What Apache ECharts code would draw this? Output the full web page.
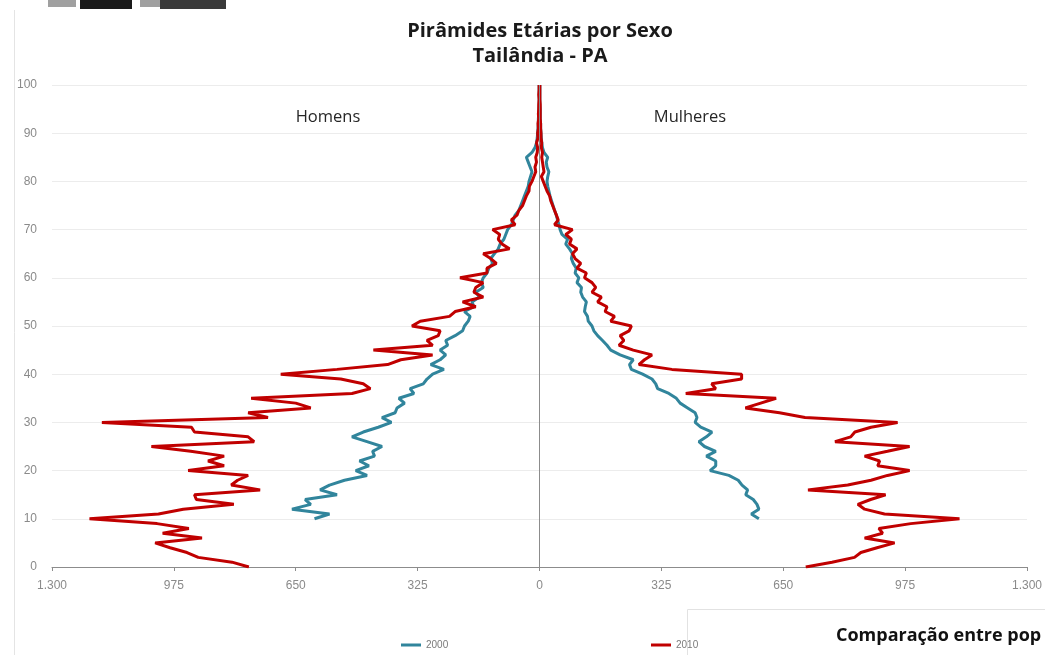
<!DOCTYPE html>
<html>
<head>
<meta charset="utf-8">
<script src="https://cdn.jsdelivr.net/npm/echarts@6/dist/echarts.min.js"></script>
<style>
html,body{margin:0;padding:0;background:#fff;}
#chart{width:1045px;height:655px;}
</style>
</head>
<body>
<div id="chart"></div>
<script>
// Ages (category axis, bottom to top)
const ages = [0,1,2,3,4,5,6,7,8,9,10,11,12,13,14,15,16,17,18,19,20,21,22,23,24,25,26,27,28,29,30,31,32,33,34,35,36,37,38,39,40,41,42,43,44,45,46,47,48,49,50,51,52,53,54,55,56,57,58,59,60,61,62,63,64,65,66,67,68,69,70,71,72,73,74,75,76,77,78,79,80,81,82,83,84,85,86,87,88,89,90,91,92,93,94,95,96,97,98,99,100];

// Men 2000 (magnitudes; drawn to the left)
const men2000 = [null,null,null,null,null,null,null,null,null,null,
  600,560,660,610,625,540,585,560,520,460,
  490,455,480,440,445,420,460,500,470,430,
  395,420,385,380,360,375,335,345,310,300,
  285,255,290,265,250,265,245,250,225,205,
  200,190,185,200,175,180,160,170,150,155,
  150,140,135,125,130,120,110,105,95,90,
  85,75,70,65,55,50,45,40,35,30,
  28,24,20,25,30,35,20,12,8,6,
  5,4,3,3,2,2,1,1,1,1,1];

// Women 2000
const women2000 = [null,null,null,null,null,null,null,null,null,null,
  585,565,585,580,570,550,555,540,530,505,
  455,470,470,445,470,440,425,445,460,430,
  415,420,415,395,375,365,345,315,310,300,
  275,245,240,250,215,190,180,168,155,145,
  140,130,128,120,122,125,115,110,112,100,
  105,95,98,90,85,88,80,70,75,60,
  55,52,48,45,40,36,32,28,25,22,
  20,22,25,20,18,22,12,8,6,5,
  4,3,3,2,2,2,1,1,1,1,1];

// Men 2010
const men2010 = [775,820,910,940,985,1025,900,1005,935,1020,
  1200,1016,950,815,915,920,745,822,805,777,
  937,841,884,841,930,1035,761,777,920,928,
  1167,724,777,610,650,769,500,451,470,530,
  690,540,405,370,285,443,285,300,270,265,
  340,318,240,225,170,205,150,175,170,150,
  212,140,140,115,130,150,80,100,110,106,
  125,65,75,60,55,45,40,35,28,27,
  20,15,10,12,8,10,6,5,8,4,
  5,3,4,2,3,2,2,1,2,1,1];

// Women 2010
const women2010 = [710,780,840,857,900,947,867,915,905,990,
  1120,920,867,849,883,923,716,822,884,928,
  987,902,907,867,928,987,788,830,841,884,
  955,708,640,549,590,631,390,470,459,539,
  539,353,265,280,300,250,212,225,215,239,
  245,190,200,175,180,155,165,140,150,140,
  120,125,100,110,95,88,100,80,85,70,
  88,40,50,45,40,35,30,27,20,15,
  10,5,12,10,8,6,8,5,6,4,
  4,3,3,2,2,2,2,1,1,1,1];

const xTicks = [-1300,-975,-650,-325,0,325,650,975,1300];
const xTickLabels = ['1.300','975','650','325','0','325','650','975','1.300'];

const colors = {'2000':'#31859c','2010':'#c00000'};

const neg = arr => arr.map(v => v === null ? null : -v);

const chart = echarts.init(document.getElementById('chart'), null, {renderer:'canvas'});

function lineSeries(name, data, extra) {
  return Object.assign({
    name: name,
    type: 'line',
    data: data,
    showSymbol: false,
    symbol: 'none',
    connectNulls: false,
    lineStyle: {color: colors[name], width: 3},
    itemStyle: {color: colors[name]},
    emphasis: {disabled: true},
    animation: false
  }, extra || {});
}

const option = {
  backgroundColor: '#ffffff',
  animation: false,
  grid: {left: 52, right: 17, top: 85, bottom: 88, containLabel: false},
  xAxis: {
    type: 'value',
    min: -1300, max: 1300, interval: 325,
    axisLine: {show: true, lineStyle: {color: '#8c8c8c', width: 1}},
    axisTick: {show: true, length: 4, lineStyle: {color: '#8c8c8c'}},
    splitLine: {show: false},
    axisLabel: {
      margin: 13,
      color: '#8a8a8a',
      fontFamily: 'Liberation Sans',
      fontSize: 12,
      formatter: function (v) { const i = xTicks.indexOf(v); return i >= 0 ? xTickLabels[i] : ''; }
    }
  },
  yAxis: {
    type: 'category',
    data: ages,
    boundaryGap: false,
    axisLine: {show: false},
    axisTick: {show: false},
    axisLabel: {
      interval: 9,
      margin: 15,
      color: '#8a8a8a',
      fontFamily: 'Liberation Sans',
      fontSize: 12
    },
    splitLine: {show: true, interval: 9, lineStyle: {color: '#ececec', width: 1}}
  },
  legend: [
    {data: [{name: '2000'}], left: 396, top: 635, icon: 'rect', itemWidth: 20, itemHeight: 3,
     textStyle: {color: '#7a7a7a', fontSize: 10, fontFamily: 'Liberation Sans'}, selectedMode: false},
    {data: [{name: '2010'}], left: 646, top: 635, icon: 'rect', itemWidth: 20, itemHeight: 3,
     textStyle: {color: '#7a7a7a', fontSize: 10, fontFamily: 'Liberation Sans'}, selectedMode: false}
  ],
  series: [
    lineSeries('2000', neg(men2000), {
      markLine: {
        silent: true, symbol: ['none','none'], label: {show: false},
        lineStyle: {color: '#8c8c8c', width: 1, type: 'solid'},
        data: [{xAxis: 0}], animation: false
      }
    }),
    lineSeries('2000', women2000),
    lineSeries('2010', neg(men2010)),
    lineSeries('2010', women2010)
  ],
  graphic: [
    {type: 'line', shape: {x1: 14.5, y1: 10, x2: 14.5, y2: 655}, style: {stroke: '#e4e4e4', lineWidth: 1}, silent: true},
    {type: 'rect', shape: {x: 48, y: 0, width: 28, height: 7}, style: {fill: '#a0a0a0'}, silent: true},
    {type: 'rect', shape: {x: 80, y: 0, width: 52, height: 9}, style: {fill: '#1a1a1a'}, silent: true},
    {type: 'rect', shape: {x: 140, y: 0, width: 20, height: 7}, style: {fill: '#a0a0a0'}, silent: true},
    {type: 'rect', shape: {x: 160, y: 0, width: 66, height: 9}, style: {fill: '#3a3a3a'}, silent: true},
    {type: 'text', x: 540, y: 31, style: {text: 'Pirâmides Etárias por Sexo', textAlign: 'center', textVerticalAlign: 'middle', font: 'bold 20px "Open Sans"', fill: '#1a1a1a'}, silent: true},
    {type: 'text', x: 540, y: 56, style: {text: 'Tailândia - PA', textAlign: 'center', textVerticalAlign: 'middle', font: 'bold 20px "Open Sans"', fill: '#1a1a1a'}, silent: true},
    {type: 'text', x: 328, y: 117, style: {text: 'Homens', textAlign: 'center', textVerticalAlign: 'middle', font: '16.5px "Open Sans"', fill: '#262626'}, silent: true},
    {type: 'text', x: 690, y: 117, style: {text: 'Mulheres', textAlign: 'center', textVerticalAlign: 'middle', font: '16.5px "Open Sans"', fill: '#262626'}, silent: true},
    {type: 'rect', shape: {x: 687.5, y: 609.5, width: 370, height: 60}, style: {fill: '#ffffff', stroke: '#e2e2e2', lineWidth: 1}, silent: true},
    {type: 'text', x: 836, y: 636, style: {text: 'Comparação entre pop', textAlign: 'left', textVerticalAlign: 'middle', font: 'bold 18px "Open Sans"', fill: '#111111'}, silent: true}
  ]
};

chart.setOption(option);
</script>
</body>
</html>
